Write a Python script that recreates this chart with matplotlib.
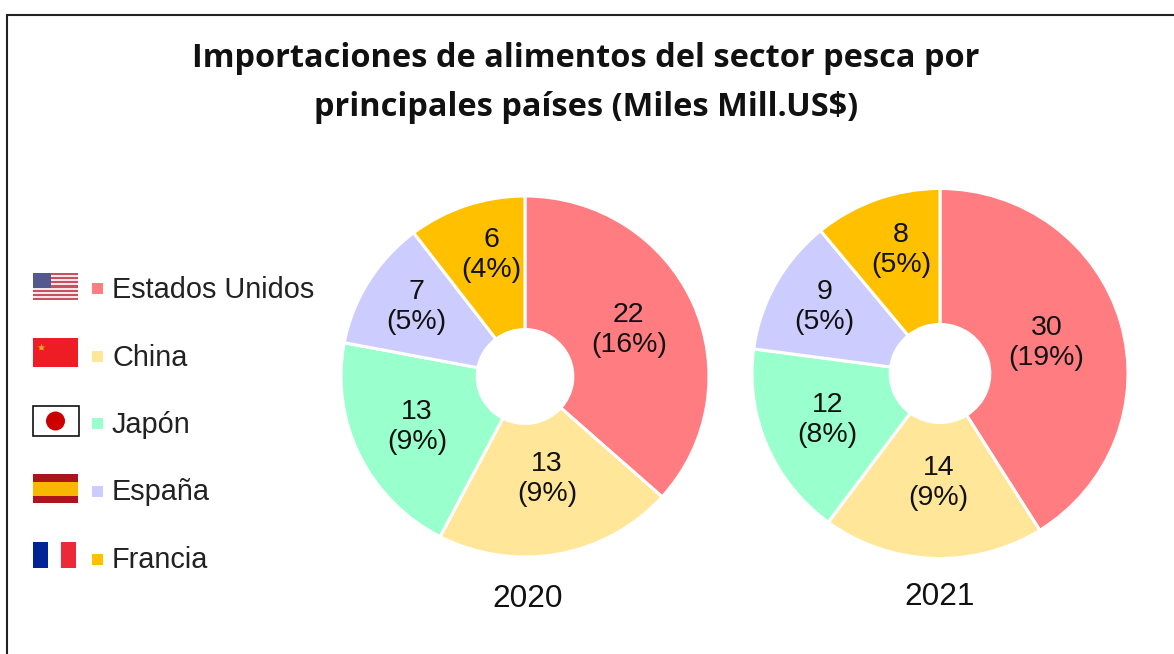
import matplotlib
matplotlib.use('Agg')
import numpy as np
import matplotlib.pyplot as plt
from matplotlib.patches import Rectangle, Circle

paises = ['Estados Unidos', 'China', 'Japón', 'España', 'Francia']
colores = ['#FF7C80', '#FFE699', '#99FFCC', '#CCCCFF', '#FFC000']
# slice sizes, labels are the rounded figures
valores_2020 = [22.3, 12.8, 12.4, 7.1, 6.3]
etiq_2020 = [22, 13, 13, 7, 6]
pct_2020 = [16, 9, 9, 5, 4]
valores_2021 = [30.0, 13.9, 12.4, 8.7, 8.0]
etiq_2021 = [30, 14, 12, 9, 8]
pct_2021 = [19, 9, 8, 5, 5]
titulo = 'Importaciones de alimentos del sector pesca por\nprincipales países (Miles Mill.US$)'

W, H = 1174, 654
plt.rcParams['font.family'] = ['Liberation Sans', 'DejaVu Sans']
fig = plt.figure(figsize=(W / 100, H / 100), dpi=100)

# overlay in pixel coords for frame, title and flags
bg = fig.add_axes([0, 0, 1, 1])
bg.set_xlim(0, W)
bg.set_ylim(H, 0)
bg.axis('off')


def dona(vals, etiq, pcts, dist, dx, cx, cy, rx, ry, hole, year, year_x, year_y):
    ax = fig.add_axes([(cx - rx) / W, 1 - (cy + ry) / H, 2 * rx / W, 2 * ry / H])
    wedges, _ = ax.pie(vals, colors=colores, startangle=90, counterclock=False, radius=1,
                       wedgeprops={'width': 1 - hole, 'edgecolor': 'white', 'linewidth': 2.2})
    ax.set_aspect('auto')
    ax.set_xlim(-1, 1)
    ax.set_ylim(-1, 1)
    for w, v, p, d, off in zip(wedges, etiq, pcts, dist, dx):
        ang = np.deg2rad((w.theta1 + w.theta2) / 2)
        ax.text(d * np.cos(ang) + off / rx, d * np.sin(ang), '%d\n(%d%%)' % (v, p), ha='center', va='center',
                fontsize=20.5, color='#111111', linespacing=1.2)
    bg.text(year_x, year_y, year, ha='center', va='center', fontsize=22.8, color='#111111')


dona(valores_2020, etiq_2020, pct_2020, [.63, .58, .64, .73, .71], [-2, 3, -2, 6, 8],
     525, 376.5, 184, 180.5, .26, '2020', 528, 599)
dona(valores_2021, etiq_2021, pct_2021, [.59, .59, .65, .74, .71], [0, 3, 0, 6, 6],
     940, 373.5, 188, 185, .265, '2021', 940, 597)

# frame
bg.plot([7, 7, W], [H, 15, 15], color='#222222', lw=1.5, solid_joinstyle='miter')

bg.text(586, 83, titulo, ha='center', va='center', fontsize=23.4, fontweight='bold',
        family='Open Sans', color='#111111', linespacing=1.65)

# legend
ys = [289.5, 357.5, 425, 492.5, 560.5]
for nombre, col, y in zip(paises, colores, ys):
    bg.add_patch(Rectangle((92, y - 7), 11, 11, fc=col, ec='none'))
    bg.text(112, y, nombre, ha='left', va='center', fontsize=20.8, color='#222222')

# flags
for i in range(13):
    c = '#C8505F' if i % 2 == 0 else '#F2E6EA'
    bg.add_patch(Rectangle((33, 272.5 + i * 2.15), 45, 2.15, fc=c, ec='none'))
bg.add_patch(Rectangle((33, 272.5), 18, 15, fc='#55588F', ec='none'))

bg.add_patch(Rectangle((33, 338), 45, 29, fc='#EE1C25', ec='none'))
bg.plot([41], [347], marker='*', ms=6, color='#F5A623', mec='none')

bg.add_patch(Rectangle((32.5, 405.5), 46, 30, fc='white', ec='#111111', lw=1.2))
bg.add_patch(Circle((55.5, 421), 9.5, fc='#CC0000', ec='none'))

bg.add_patch(Rectangle((33, 474), 45, 29, fc='#AA151B', ec='none'))
bg.add_patch(Rectangle((33, 481.5), 45, 14.5, fc='#F9B800', ec='none'))

bg.add_patch(Rectangle((33, 542), 15, 26, fc='#002395', ec='none'))
bg.add_patch(Rectangle((61, 542), 14.5, 26, fc='#ED2939', ec='none'))

fig.savefig('out.png', dpi=100, facecolor='white')
